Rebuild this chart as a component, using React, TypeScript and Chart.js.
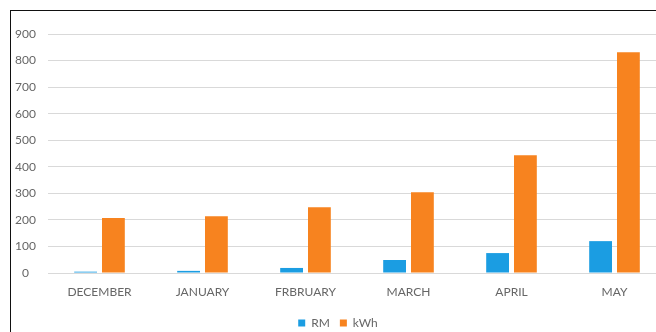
import React, { useEffect, useRef } from "react";
import { Chart, registerables } from "chart.js";

Chart.register(...registerables);

const categories = ["DECEMBER", "JANUARY", "FRBRUARY", "MARCH", "APRIL", "MAY"];
const rmValues = [5, 8, 19, 49, 75, 120];
const kwhValues = [207, 214, 248, 304, 443, 831];
const yTicks = [0, 100, 200, 300, 400, 500, 600, 700, 800, 900];

const FONT = "Lato, 'Open Sans', sans-serif";
const TEXT = "#666666";

export default function App() {
  const ref = useRef<HTMLCanvasElement | null>(null);
  useEffect(() => {
    if (!ref.current) return;
    const chart = new Chart(ref.current, {
      type: "bar",
      data: {
        labels: categories,
        datasets: [
          { label: "RM", data: rmValues, backgroundColor: "#1b9de2", barPercentage: 0.82, categoryPercentage: 0.54 },
          { label: "kWh", data: kwhValues, backgroundColor: "#f7831f", barPercentage: 0.82, categoryPercentage: 0.54 },
        ],
      },
      options: {
        responsive: false,
        animation: false,
        devicePixelRatio: 1,
        layout: { padding: { left: 10, top: 34, right: 4, bottom: 6 } },
        plugins: {
          legend: {
            position: "bottom",
            maxHeight: 27,
            labels: { boxWidth: 7, boxHeight: 7, padding: 10, color: TEXT, font: { family: FONT, size: 12 } },
          },
          tooltip: { enabled: false },
        },
        scales: {
          x: {
            afterFit: (s: any) => { s.height = 34; },
            grid: { display: false, drawTicks: false },
            border: { display: false },
            ticks: { color: TEXT, padding: 12, font: { family: FONT, size: 12 }, maxRotation: 0 },
          },
          y: {
            min: 0,
            max: 900,
            afterFit: (s: any) => { s.width = 38; },
            afterBuildTicks: (s: any) => { s.ticks = yTicks.map((v) => ({ value: v })); },
            grid: { color: "#d9d9d9", lineWidth: 1, drawTicks: false },
            border: { display: false },
            ticks: { color: TEXT, padding: 12, crossAlign: "center", font: { family: FONT, size: 12 } },
          },
        },
      },
    });
    return () => chart.destroy();
  }, []);
  return (
    <div style={{ position: "fixed", left: 0, top: 0, width: 656, height: 332, overflow: "hidden", background: "#fff" }}>
      <canvas ref={ref} width={670} height={340} style={{ position: "absolute", left: 0, top: 0 }} />
      <div style={{ position: "absolute", left: 10, top: 10, width: 660, height: 340, borderTop: "1px solid #111", borderLeft: "1px solid #111", pointerEvents: "none" }} />
    </div>
  );
}
